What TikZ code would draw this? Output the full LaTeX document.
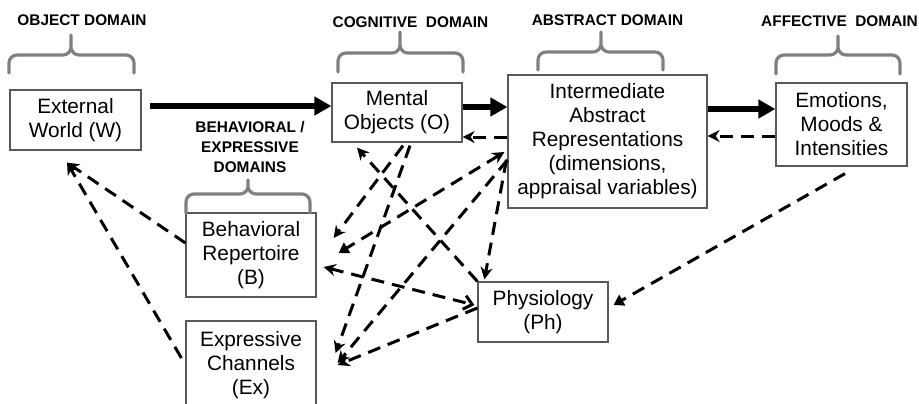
\documentclass[tikz,border=0pt]{standalone}
\usepackage{fontspec}
\setmainfont{Liberation Sans}
\usetikzlibrary{arrows.meta, calc}
\tikzset{
	% Define box style
	box/.style={
		draw=black!65,
		line width=0.6pt,
		align=center,
		inner sep=0pt,
		font=\fontsize{10.4}{12}\selectfont
	},
	% Define domain title style
	domaintitle/.style={
		align=center,
		inner sep=0pt,
		font=\fontsize{7.7}{10}\selectfont\bfseries
	},
	domainbrace/.style={
		draw=black!50,
		line width=1.6pt,
		rounded corners=4pt,
		line cap=round
	},
	% Define main arrow style
	flow/.style={
		-{Triangle[length=8.5pt,width=9pt]},
		line width=2.8pt
	},
	% Define dashed arrow style
	fb/.style={
		-{Stealth[length=6pt,width=6pt]},
		line width=1.5pt,
		dash pattern=on 6.5pt off 4pt
	}
}

\begin{document}
\begin{tikzpicture}[x=0.5pt, y=-0.5pt]
\useasboundingbox (0,0) rectangle (919,403);

\node[box, minimum width=65.5pt, minimum height=30pt] at (75.5,120) (W) {External\\World (W)};
\node[box, minimum width=65pt, minimum height=29.5pt] at (397,112.5) (O) {Mental\\Objects (O)};
\node[box, minimum width=99.5pt, minimum height=66.5pt] at (607.5,141.5) (A) {Intermediate\\Abstract\\Representations\\(dimensions,\\appraisal variables)};
\node[box, minimum width=65.5pt, minimum height=41.5pt] at (841.5,124.5) (E) {Emotions,\\Moods \&\\Intensities};
\node[box, minimum width=65pt, minimum height=42pt] at (251,255) (B) {Behavioral\\Repertoire\\(B)};
\node[box, minimum width=65pt, minimum height=44pt] at (251,365) (Ex) {Expressive\\Channels\\(Ex)};
\node[box, minimum width=65pt, minimum height=30pt] at (543,312) (Ph) {Physiology\\(Ph)};

% domains
\node[domaintitle] at (82,20.5) (objdom) {OBJECT DOMAIN};
\node[domaintitle] at (410.5,22) (cogdom) {COGNITIVE\ \ DOMAIN};
\node[domaintitle] at (607.5,20) (absdom) {ABSTRACT DOMAIN};
\node[domaintitle] at (839.5,21) (affdom) {AFFECTIVE\ \ DOMAIN};
\node[domaintitle] at (250,147) (behdom) {BEHAVIORAL /\\EXPRESSIVE\\DOMAINS};

\draw[domainbrace] (9,73) -- (9,55) -- (71,55) -- (71,35) (134,73) -- (134,55) -- (71,55) -- (71,35);
\draw[domainbrace] (338,72) -- (338,53) -- (400,53) -- (400,32) (463,72) -- (463,53) -- (400,53) -- (400,32);
\draw[domainbrace] (538,70) -- (538,52) -- (601,52) -- (601,32) (663,70) -- (663,52) -- (601,52) -- (601,32);
\draw[domainbrace] (776,74) -- (776,55) -- (838,55) -- (838,36) (900,74) -- (900,55) -- (838,55) -- (838,36);
\draw[domainbrace] (186,213) -- (186,194) -- (248,194) -- (248,180) (310,213) -- (310,194) -- (248,194) -- (248,180);

% main flow
\draw[flow] ($(W.east)+(8,-14)$) -- ($(O.west)+(0,-6.5)$);
\draw[flow] ($(O.east)+(0,-5.5)$) -- ($(A.west)+(0,-34.5)$);
\draw[flow] ($(A.east)+(0,-32.5)$) -- ($(E.west)+(0,-15.5)$);

% feedback
\draw[fb] ($(A.west)+(0,-4.5)$) -- ($(O.east)+(0,24.5)$);
\draw[fb] ($(E.west)+(0,11.5)$) -- ($(A.east)+(0,-5.5)$);
\draw[fb] ($(B.west)+(0,-12)$) -- ($(W.south)+(-8.5,12)$);
\draw[fb] ($(Ex.west)+(-4,-7)$) -- ($(W.south)+(-8.5,12)$);
\draw[fb] (Ph.north west) -- ($(O.south)+(-40,5)$);
\draw[fb] ($(O.south)+(6,3)$) -- ($(B.east)+(17,-17)$);
\draw[fb] ($(O.south)+(13,3)$) -- ($(Ex.east)+(19,-12)$);
\draw[fb, {Stealth[length=6pt,width=6pt]}-{Triangle[length=5pt,width=6pt]}] ($(A.west)+(-3,10.5)$) -- ($(B.east)+(22,-2)$);
\draw[fb] ($(A.west)+(0,18.5)$) -- ($(Ex.east)+(21,-2)$);
\draw[fb] ($(A.west)+(-1,18.5)$) -- ($(Ph.north west)+(7,-2)$);
\draw[fb, {Stealth[length=6pt,width=6pt]}-{Straight Barb[length=4pt,width=7pt]}] ($(B.east)+(7,12)$) -- ($(Ph.west)+(-3,-7)$);
\draw[fb] ($(Ph.west)+(0,-4)$) -- ($(Ex.east)+(21,0)$);
\draw[fb, -{Triangle[length=5pt,width=6pt]}] ($(E.south)+(3.5,7)$) -- ($(Ph.east)+(5,-7)$);

\end{tikzpicture}
\end{document}
